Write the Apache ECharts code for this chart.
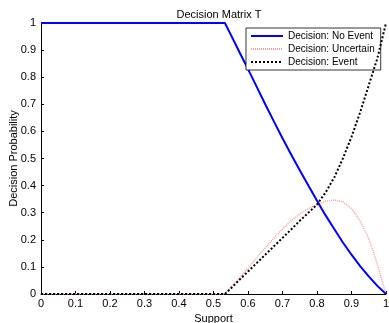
<!DOCTYPE html>
<html>
<head>
<meta charset="utf-8">
<script src="https://cdn.jsdelivr.net/npm/echarts@6/dist/echarts.min.js"></script>
<style>
  html, body { margin: 0; padding: 0; background: #fff; }
  #chart { width: 389px; height: 323px; }
</style>
</head>
<body>
<div id="chart"></div>
<script>
  // 数据
  const support = [0, 0.533, 0.55, 0.575, 0.6, 0.625, 0.65, 0.675, 0.7, 0.725, 0.75, 0.775, 0.8, 0.825, 0.85, 0.875, 0.9, 0.925, 0.95, 0.975, 1];
  const noEvent = [1, 1, 0.957, 0.893, 0.83, 0.765, 0.70, 0.637, 0.575, 0.515, 0.457, 0.40, 0.344, 0.29, 0.24, 0.19, 0.145, 0.103, 0.065, 0.03, 0];
  const uncertain = [0, 0, 0.025, 0.06, 0.095, 0.133, 0.17, 0.206, 0.24, 0.27, 0.295, 0.315, 0.33, 0.342, 0.347, 0.34, 0.315, 0.27, 0.205, 0.11, 0];
  const event = [0, 0, 0.02, 0.052, 0.083, 0.114, 0.145, 0.176, 0.207, 0.238, 0.27, 0.30, 0.33, 0.375, 0.43, 0.50, 0.58, 0.67, 0.77, 0.87, 1];
  const seriesNames = ['Decision: No Event', 'Decision: Uncertain', 'Decision: Event'];

  const pairs = (ys) => support.map((x, i) => [x, ys[i]]);
  const font = 'Liberation Sans, Arial, sans-serif';

  const chart = echarts.init(document.getElementById('chart'));
  chart.setOption({
    animation: false,
    backgroundColor: '#fff',
    textStyle: { fontFamily: font },
    title: {
      text: 'Decision Matrix T',
      left: 214, top: 4, textAlign: 'center',
      textStyle: { fontSize: 11, fontWeight: 'normal', color: '#000', fontFamily: font }
    },
    grid: { left: 41, right: 3, top: 23, bottom: 29, containLabel: false, outerBoundsMode: 'none' },
    legend: {
      orient: 'vertical',
      left: 246, top: 28,
      backgroundColor: '#fff',
      borderColor: '#000', borderWidth: 0.8,
      padding: [3, 6, 3, 4],
      itemGap: 3,
      itemWidth: 32, itemHeight: 11,
      itemStyle: { opacity: 0 },
      textStyle: { fontSize: 10, color: '#000', fontFamily: font },
      data: seriesNames
    },
    xAxis: {
      type: 'value', min: 0, max: 1, interval: 0.1,
      name: 'Support', nameLocation: 'middle', nameGap: 17,
      nameTextStyle: { fontSize: 11, color: '#000', fontFamily: font },
      axisLine: { show: true, lineStyle: { color: '#000', width: 1 } },
      axisTick: { show: true, inside: true, length: 3, lineStyle: { color: '#000' } },
      axisLabel: { fontSize: 11, color: '#000', margin: 4, fontFamily: font },
      splitLine: { show: false }
    },
    yAxis: {
      type: 'value', min: 0, max: 1, interval: 0.1,
      name: 'Decision Probability', nameLocation: 'middle', nameGap: 22,
      nameMoveOverlap: false,
      nameTextStyle: { fontSize: 11, color: '#000', fontFamily: font },
      axisLine: { show: true, lineStyle: { color: '#000', width: 1 } },
      axisTick: { show: true, inside: true, length: 3, lineStyle: { color: '#000' } },
      axisLabel: { fontSize: 11, color: '#000', margin: 5, fontFamily: font },
      splitLine: { show: false }
    },
    series: [
      {
        name: seriesNames[0], type: 'line', data: pairs(noEvent),
        showSymbol: false, symbol: 'none', z: 3,
        lineStyle: { color: '#0000ff', width: 2, type: 'solid' },
        itemStyle: { color: '#0000ff' }
      },
      {
        name: seriesNames[1], type: 'line', data: pairs(uncertain),
        showSymbol: false, symbol: 'none', z: 2,
        lineStyle: { color: '#f4a0a0', width: 1.5, type: [1, 1] },
        itemStyle: { color: '#f4a0a0' }
      },
      {
        name: seriesNames[2], type: 'line', data: pairs(event),
        showSymbol: false, symbol: 'none', z: 4,
        lineStyle: { color: '#000', width: 2, type: [2, 2] },
        itemStyle: { color: '#000' }
      }
    ]
  });
</script>
</body>
</html>
